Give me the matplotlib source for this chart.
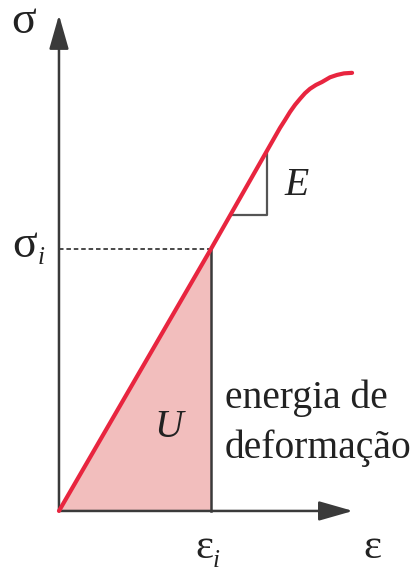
import matplotlib
matplotlib.use("Agg")
import matplotlib.pyplot as plt
from matplotlib.patches import FancyArrowPatch

plt.rcParams['font.family'] = ['Liberation Serif', 'DejaVu Serif']

# stress-strain curve, strain and stress scaled so that eps_i = sigma_i = 1
strain = [0.0, 1.0, 1.454, 1.487, 1.520, 1.553, 1.586, 1.618, 1.651, 1.691,
          1.730, 1.783, 1.829, 1.875, 1.928]
stress = [0.0, 1.0, 1.462, 1.492, 1.523, 1.550, 1.573, 1.594, 1.611, 1.626,
          1.637, 1.655, 1.664, 1.670, 1.672]
eps_i = 1.0
sigma_i = 1.0
# slope triangle for E
tri_x = [1.13, 1.368]
tri_y = [1.13, 1.368]
x_max = 1.934
y_max = 1.893

red = '#e8253f'
gray = '#3a3a3a'
fs = 28.5

fig = plt.figure(figsize=(4.15, 5.72), dpi=100)
ax = fig.add_axes([0, 0, 1, 1])
ax.set_xlim(-0.388, 2.342)
ax.set_ylim(-0.233, 1.950)
ax.axis('off')

# strain energy area
ax.fill([0, eps_i, eps_i], [0, 0, sigma_i], color='#f2bebd', lw=0, zorder=1)

# axes with arrow heads
for end in [(x_max, 0), (0, y_max)]:
    ax.add_patch(FancyArrowPatch((0, 0), end, arrowstyle='-|>,head_length=2.1,head_width=0.6',
                                 mutation_scale=10, lw=1.8, color=gray, shrinkA=0, shrinkB=0,
                                 zorder=2))

ax.plot([0, eps_i], [sigma_i, sigma_i], color=gray, lw=1.3, ls=(0, (2.5, 1.6)), zorder=2)
ax.plot([eps_i, eps_i], [0, sigma_i], color=gray, lw=1.8, zorder=2)
ax.plot([tri_x[0], tri_x[1], tri_x[1]], [tri_y[0], tri_y[0], tri_y[1]],
        color='#555555', lw=1.6, zorder=2)

ax.plot(strain, stress, color=red, lw=3.0, solid_capstyle='round',
        solid_joinstyle='round', zorder=3)

def px(x, y):
    return (x - 59) / 152, (511 - y) / 262

tc = '#222222'
ax.text(*px(24, 33), 'σ', fontsize=33, ha='center', va='baseline', color=tc)
ax.text(*px(25, 257), 'σ', fontsize=33, ha='center', va='baseline', color=tc)
ax.text(*px(41, 264), 'i', fontsize=18, style='italic', ha='center', va='baseline', color=tc)
ax.text(*px(204, 558), 'ε', fontsize=31, ha='center', va='baseline', color=tc)
ax.text(*px(216, 567), 'i', fontsize=18, style='italic', ha='center', va='baseline', color=tc)
ax.text(*px(372, 558), 'ε', fontsize=31, ha='center', va='baseline', color=tc)
ax.text(*px(297, 195), 'E', fontsize=fs, style='italic', ha='center', va='baseline', color=tc)
ax.text(*px(169, 437), 'U', fontsize=fs, style='italic', ha='center', va='baseline', color=tc)
ax.text(*px(225, 408), 'energia de', fontsize=fs, ha='left', va='baseline', color=tc)
ax.text(*px(225, 458), 'deformação', fontsize=fs, ha='left', va='baseline', color=tc)

fig.savefig('out.png', dpi=100)
